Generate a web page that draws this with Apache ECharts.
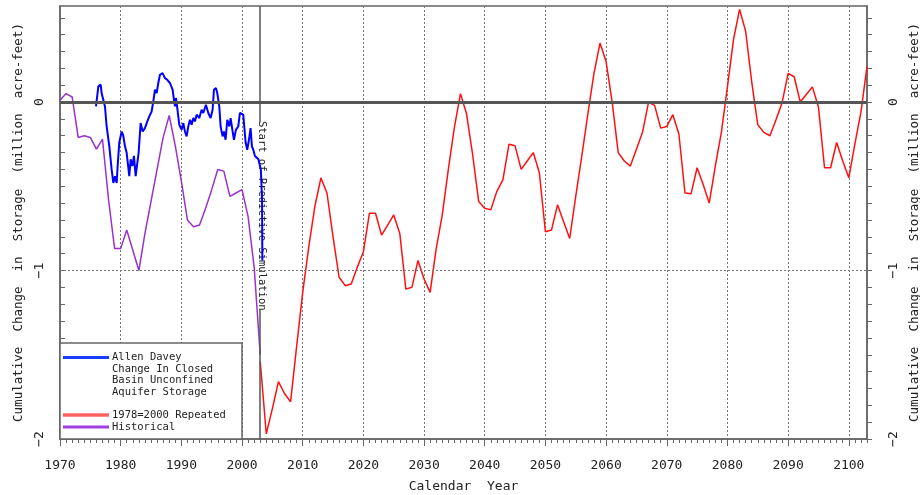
<!DOCTYPE html>
<html><head><meta charset="utf-8">
<script src="https://cdn.jsdelivr.net/npm/echarts@6/dist/echarts.min.js"></script>
<style>html,body{margin:0;padding:0;background:#fff}#c{width:920px;height:495px}</style>
</head><body><div id="c"></div>
<script>
// ---- data ----
const repeatedStartYear = 2003;
const repeatedValues = [
  -1.54, -1.97, -1.82, -1.66, -1.73, -1.78, -1.45, -1.13, -0.86, -0.62,
  -0.45, -0.54, -0.80, -1.04, -1.09, -1.08, -0.98, -0.89, -0.66, -0.66,
  -0.79, -0.73, -0.67, -0.78, -1.11, -1.10, -0.94, -1.05, -1.13, -0.87,
  -0.67, -0.40, -0.15, 0.05, -0.07, -0.31, -0.59, -0.63, -0.64, -0.53,
  -0.46, -0.25, -0.26, -0.40, -0.35, -0.30, -0.42, -0.77, -0.76, -0.61,
  -0.71, -0.81, -0.56, -0.32, -0.07, 0.17, 0.35, 0.24, 0.00, -0.30,
  -0.35, -0.38, -0.28, -0.18, 0.00, -0.02, -0.155, -0.145, -0.075, -0.19,
  -0.54, -0.545, -0.39, -0.49, -0.60, -0.38, -0.18, 0.09, 0.37, 0.55,
  0.42, 0.12, -0.135, -0.18, -0.20, -0.105, -0.005, 0.17, 0.15, 0.00,
  0.045, 0.09, -0.03, -0.39, -0.39, -0.24, -0.35, -0.45, -0.25, -0.06,
  0.21
];
const historicalStartYear = 1970;
const historicalValues = [
  0.01, 0.05, 0.03, -0.21, -0.20, -0.21, -0.28, -0.22, -0.58, -0.87,
  -0.87, -0.76, -0.88, -1.00, -0.78, -0.59, -0.40, -0.21, -0.08, -0.26,
  -0.47, -0.70, -0.74, -0.73, -0.63, -0.52, -0.40, -0.41, -0.56, -0.54,
  -0.52, -0.68, -0.98, -1.50
];
const daveyYears = [
  1975.93, 1976.32, 1976.70, 1976.86, 1977.14, 1977.41, 1977.69, 1978.13, 1978.51, 1978.79,
  1979.06, 1979.34, 1979.50, 1979.77, 1980.16, 1980.43, 1980.71, 1980.98, 1981.42, 1981.64,
  1981.92, 1982.19, 1982.47, 1982.74, 1982.96, 1983.29, 1983.62, 1984.00, 1984.39, 1984.72,
  1985.10, 1985.38, 1985.65, 1985.93, 1986.20, 1986.47, 1986.91, 1987.30, 1987.68, 1988.12,
  1988.56, 1988.78, 1988.95, 1989.11, 1989.33, 1989.66, 1990.04, 1990.32, 1990.59, 1990.87,
  1991.14, 1991.42, 1991.69, 1991.97, 1992.24, 1992.52, 1992.95, 1993.34, 1993.61, 1994.05,
  1994.44, 1994.82, 1995.15, 1995.37, 1995.70, 1995.92, 1996.25, 1996.47, 1996.80, 1997.02,
  1997.29, 1997.57, 1997.90, 1998.12, 1998.45, 1998.67, 1999.00, 1999.38, 1999.65, 1999.93,
  2000.20, 2000.37, 2000.59, 2000.86, 2001.14, 2001.41, 2001.63, 2001.85, 2002.13, 2002.40,
  2002.70, 2003.10, 2003.30, 2003.35
];
const daveyValues = [
  -0.026, 0.093, 0.103, 0.053, 0.063, -0.026, -0.145, -0.263, -0.40, -0.48,
  -0.44, -0.48, -0.38, -0.24, -0.175, -0.20, -0.263, -0.30, -0.44, -0.34,
  -0.38, -0.32, -0.44, -0.45, -0.30, -0.125, -0.175, -0.155, -0.115, -0.085,
  -0.056, 0.004, 0.073, 0.053, 0.113, 0.162, 0.172, 0.142, 0.132, 0.113,
  0.073, 0.014, -0.026, 0.024, -0.036, -0.135, -0.164, -0.125, -0.175, -0.204,
  -0.145, -0.105, -0.135, -0.095, -0.115, -0.075, -0.095, -0.046, -0.065, -0.016,
  -0.065, -0.095, -0.046, 0.073, 0.083, 0.053, -0.026, -0.145, -0.204, -0.175,
  -0.224, -0.105, -0.145, -0.095, -0.175, -0.224, -0.164, -0.145, -0.065, -0.056,
  -0.075, -0.145, -0.24, -0.283, -0.224, -0.155, -0.263, -0.283, -0.32, -0.32,
  -0.34, -0.40, -0.58, -0.94
];
const simulationStartYear = 2003;
const simulationLabel = 'Start of Predictive Simulation';
const simulationLabelSpan = [-0.12, -1.23];   // gap in the marker line where the label sits
const legendDavey = ['Allen Davey', 'Change In Closed', 'Basin Unconfined', 'Aquifer Storage'];
const legendRepeated = '1978=2000 Repeated';
const legendHistorical = 'Historical';
const xAxisName = 'Calendar  Year';
const yAxisName = 'Cumulative  Change  in  Storage  (million  acre-feet)';

// ---- build series data ----
const repeatedData = repeatedValues.map((v, i) => [repeatedStartYear + i, v]);
const historicalData = historicalValues.map((v, i) => [historicalStartYear + i, v]);
const daveyData = daveyYears.map((y, i) => [y, daveyValues[i]]);

const Y_MIN = -2, Y_MAX = 0.57, X_MIN = 1970, X_MAX = 2103;
const MONO = '"DejaVu Sans Mono", monospace';
const TXT = '#222';
const AX = '#666';

const chart = echarts.init(document.getElementById('c'), null, {renderer: 'canvas'});

function yLabel(v) {
  const r = Math.round(v);
  if (Math.abs(v - r) > 1e-6) return '';
  return r < 0 ? '\u2212' + (-r) : String(r);
}

function yAxisDef(pos) {
  return {
    type: 'value', min: Y_MIN, max: Y_MAX, interval: 0.1, position: pos,
    axisLine: {show: true, onZero: false, lineStyle: {color: AX, width: 1.5}},
    axisTick: {show: true, inside: pos === 'left', length: 5, lineStyle: {color: AX}},
    splitLine: {show: false},
    axisLabel: {formatter: yLabel, rotate: 90, fontFamily: MONO, fontSize: 13, color: TXT,
                margin: pos === 'left' ? 14 : 20, showMaxLabel: false},
    name: yAxisName, nameLocation: 'middle', nameRotate: 90, nameGap: pos === 'left' ? 34 : 39,
    nameTextStyle: {fontFamily: MONO, fontSize: 12.5, color: TXT}
  };
}

const option = {
  animation: false,
  backgroundColor: '#fff',
  grid: {left: 60, right: 53, top: 6, bottom: 56, show: true, borderColor: AX, borderWidth: 1.5,
         backgroundColor: 'transparent', containLabel: false, outerBoundsMode: 'none'},
  xAxis: [
    {
      type: 'value', min: X_MIN, max: X_MAX, interval: 10, position: 'bottom',
      axisLine: {show: true, onZero: false, lineStyle: {color: AX, width: 1.5}},
      axisTick: {show: true, inside: false, length: 7, lineStyle: {color: AX}},
      axisLabel: {formatter: v => String(v), fontFamily: MONO, fontSize: 13, color: TXT, margin: 20, showMaxLabel: false},
      splitLine: {show: true, lineStyle: {color: '#777', type: [2, 2], width: 1}},
      name: xAxisName, nameLocation: 'middle', nameGap: 41,
      nameTextStyle: {fontFamily: MONO, fontSize: 13, color: TXT}
    },
    {
      type: 'value', min: X_MIN, max: X_MAX, interval: 1, position: 'bottom',
      axisLine: {show: false, onZero: false},
      axisTick: {show: true, inside: false, length: 4, lineStyle: {color: AX}},
      axisLabel: {show: false},
      splitLine: {show: false}
    }
  ],
  yAxis: [yAxisDef('left'), yAxisDef('right')],
  series: [
    {
      name: 'guides', type: 'line', data: [], z: 1, silent: true,
      markLine: {
        silent: true, symbol: 'none', animation: false, label: {show: false},
        data: [
          {yAxis: 0, lineStyle: {color: '#555', width: 3, type: 'solid'}},
          {yAxis: -1, lineStyle: {color: '#777', width: 1, type: [2, 2]}},
          [{coord: [simulationStartYear, Y_MIN], lineStyle: {color: '#555', width: 1.5, type: 'solid'}},
           {coord: [simulationStartYear, simulationLabelSpan[1]]}],
          [{coord: [simulationStartYear, simulationLabelSpan[0]], lineStyle: {color: '#555', width: 1.5, type: 'solid'}},
           {coord: [simulationStartYear, Y_MAX]}]
        ]
      }
    },
    {
      name: legendHistorical, type: 'line', data: historicalData, z: 3,
      showSymbol: false, symbol: 'none', lineStyle: {color: '#9a32cd', width: 1.5}
    },
    {
      name: legendDavey.join(' '), type: 'line', data: daveyData, z: 4,
      showSymbol: false, symbol: 'none', lineStyle: {color: '#0000ff', width: 2}
    },
    {
      name: legendRepeated, type: 'line', data: repeatedData, z: 3,
      showSymbol: false, symbol: 'none', lineStyle: {color: '#ff1010', width: 1.5}
    }
  ]
};
chart.setOption(option);

// ---- annotation and legend box ----
const midVal = (simulationLabelSpan[0] + simulationLabelSpan[1]) / 2;
const p = chart.convertToPixel({gridIndex: 0}, [simulationStartYear, midVal]);
const legendTop = 343, legendLeft = 60;
const lineX1 = 63, lineX2 = 109, textX = 112;
const lh = 11.6;
const legendEls = [
  {type: 'rect', z: 5, shape: {x: legendLeft, y: legendTop, width: 182, height: 96},
   style: {fill: '#fff', stroke: AX, lineWidth: 1.5}},
  {type: 'line', z: 6, shape: {x1: lineX1, y1: legendTop + 14.5, x2: lineX2, y2: legendTop + 14.5},
   style: {stroke: '#1a3cff', lineWidth: 3}},
  {type: 'line', z: 6, shape: {x1: lineX1, y1: legendTop + 72, x2: lineX2, y2: legendTop + 72},
   style: {stroke: '#ff6060', lineWidth: 3.5}},
  {type: 'line', z: 6, shape: {x1: lineX1, y1: legendTop + 84, x2: lineX2, y2: legendTop + 84},
   style: {stroke: '#a040e0', lineWidth: 3}}
];
legendDavey.forEach((t, i) => {
  legendEls.push({type: 'text', z: 6, x: textX, y: legendTop + 14.5 + i * lh,
    style: {text: t, font: '10.5px ' + MONO, fill: TXT, verticalAlign: 'middle', align: 'left'}});
});
legendEls.push({type: 'text', z: 6, x: textX, y: legendTop + 72,
  style: {text: legendRepeated, font: '10.5px ' + MONO, fill: TXT, verticalAlign: 'middle', align: 'left'}});
legendEls.push({type: 'text', z: 6, x: textX, y: legendTop + 84,
  style: {text: legendHistorical, font: '10.5px ' + MONO, fill: TXT, verticalAlign: 'middle', align: 'left'}});

chart.setOption({
  graphic: [
    {type: 'text', z: 2, x: p[0] + 1.5, y: p[1], rotation: -Math.PI / 2,
     style: {text: simulationLabel, font: '10.5px ' + MONO, fill: TXT, align: 'center', verticalAlign: 'middle'}},
    {type: 'group', children: legendEls}
  ]
});
</script>
</body></html>
